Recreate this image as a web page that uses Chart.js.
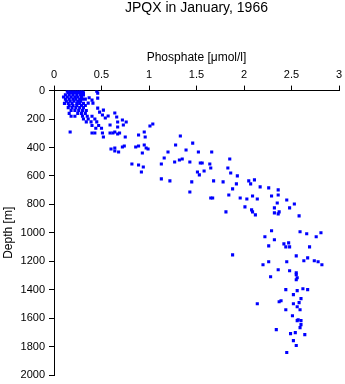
<!DOCTYPE html>
<html>
<head>
<meta charset="utf-8">
<script src="https://cdn.jsdelivr.net/npm/chart.js@4/dist/chart.umd.min.js"></script>
<style>
    body { margin: 0; background: #fff; }
    #wrap { width: 345px; height: 384px; }
</style>
</head>
<body>
<div id="wrap"><canvas id="graficaFosfato"></canvas></div>
<script>
const chartTitle = "JPQX in January, 1966";
const xTitle = "Phosphate [\u03bcmol/l]";
const yTitle = "Depth [m]";

// [phosphate, depth] pairs
const surfaceLayer = [
    [0.14, 5], [0.16, 5], [0.18, 5], [0.20, 5], [0.22, 5], [0.24, 5], [0.26, 5], [0.28, 5], [0.30, 5], [0.45, 5],
    [0.15, 15], [0.17, 15], [0.19, 15], [0.21, 15], [0.23, 15], [0.25, 15], [0.27, 15], [0.29, 15], [0.31, 15], [0.46, 18],
    [0.12, 30], [0.16, 30], [0.20, 30], [0.24, 30], [0.28, 30], [0.31, 30],
    [0.10, 45], [0.14, 45], [0.18, 45], [0.22, 45], [0.25, 45], [0.29, 45], [0.37, 50], [0.46, 53],
    [0.12, 60], [0.16, 60], [0.20, 60], [0.23, 60], [0.27, 60], [0.30, 60], [0.33, 60], [0.40, 67],
    [0.13, 75], [0.17, 75], [0.21, 75], [0.25, 75], [0.28, 75],
    [0.11, 90], [0.15, 90], [0.19, 90], [0.24, 90], [0.27, 90], [0.31, 90], [0.36, 88], [0.41, 88],
    [0.16, 105], [0.20, 105], [0.24, 105], [0.29, 105], [0.33, 105],
    [0.15, 120], [0.19, 120], [0.23, 120], [0.27, 120], [0.31, 120], [0.46, 123],
    [0.18, 140], [0.22, 140], [0.26, 140], [0.30, 140], [0.34, 140], [0.52, 137],
    [0.16, 160], [0.25, 160], [0.29, 160], [0.33, 160], [0.48, 151], [0.64, 158],
    [0.18, 180], [0.22, 180], [0.30, 180], [0.35, 180], [0.40, 180], [0.51, 172], [0.57, 179], [0.66, 186],
    [0.31, 200], [0.36, 200], [0.43, 200], [0.54, 193], [0.72, 207],
    [0.34, 220], [0.39, 220], [0.45, 220], [0.67, 221], [0.76, 221],
    [0.40, 245], [0.47, 245], [0.59, 242], [0.73, 242], [1.01, 249], [1.04, 235],
    [0.44, 265], [0.50, 265], [0.67, 256],
];

const upperLayer = [
    [0.17, 291], [0.40, 298], [0.43, 298], [0.51, 298], [0.52, 326], [0.59, 298], [0.62, 298], [0.64, 291],
    [0.67, 305], [0.69, 298], [0.75, 326], [0.89, 312], [0.95, 291], [0.96, 326], [1.33, 319],
    [0.60, 411], [0.64, 404], [0.64, 425], [0.68, 432], [0.72, 397], [0.74, 390], [0.86, 397], [0.89, 390],
    [0.95, 383], [0.97, 404], [0.99, 411], [0.93, 439], [1.20, 432], [1.16, 474], [1.28, 383], [1.27, 502],
    [1.32, 488], [1.35, 481], [0.82, 516], [0.89, 523], [0.94, 537], [0.92, 572], [1.13, 516], [1.13, 621],
    [1.22, 635], [1.46, 369], [1.39, 418], [1.52, 432], [1.66, 432], [1.85, 481], [1.43, 502], [1.54, 509],
    [1.56, 509], [1.64, 516], [1.65, 544], [1.51, 572], [1.53, 593], [1.58, 565], [1.83, 544], [1.86, 579],
    [1.93, 600], [1.45, 642], [1.68, 635], [1.78, 642], [1.92, 656], [1.88, 691], [1.43, 713], [1.84, 734],
    [1.65, 755], [1.67, 755], [1.96, 755], [1.81, 853],
];

const middleLayer = [
    [2.05, 635], [2.07, 656], [2.11, 628], [2.17, 677], [2.26, 684], [2.36, 698], [2.36, 734], [2.29, 741],
    [2.45, 769], [2.53, 797], [2.48, 825], [2.35, 790], [2.32, 825], [2.37, 853], [2.32, 860], [2.36, 867],
    [2.58, 881], [2.03, 762], [2.09, 741], [2.14, 762], [2.01, 818], [2.09, 853], [2.12, 874], [2.08, 839],
    [2.29, 986], [2.22, 1028], [2.32, 1049], [2.59, 993], [2.66, 1007], [2.81, 1000], [2.76, 1028],
    [1.88, 1155], [2.26, 1092], [2.42, 1078], [2.47, 1071], [2.44, 1099], [2.48, 1099], [2.69, 1099],
    [2.55, 1162], [2.67, 1176],
];

const deepLayer = [
    [2.26, 1204], [2.20, 1225], [2.45, 1204], [2.63, 1197], [2.74, 1197], [2.78, 1204], [2.82, 1225],
    [2.36, 1260], [2.48, 1267], [2.55, 1281], [2.55, 1295], [2.56, 1316], [2.55, 1330], [2.28, 1309],
    [2.44, 1400], [2.56, 1407], [2.62, 1393], [2.67, 1400], [2.52, 1435], [2.60, 1463], [2.58, 1491],
    [2.14, 1499], [2.37, 1485], [2.39, 1478], [2.52, 1499], [2.56, 1520], [2.44, 1541], [2.59, 1541],
    [2.51, 1583], [2.57, 1611], [2.56, 1618], [2.60, 1618], [2.60, 1646], [2.59, 1667], [2.34, 1681],
    [2.49, 1709], [2.54, 1702], [2.64, 1716], [2.52, 1758], [2.55, 1793], [2.45, 1842],
];

const fuente = '"Liberation Sans", Arial, Helvetica, sans-serif';

document.addEventListener("DOMContentLoaded", function () {
    const puntos = [...surfaceLayer, ...upperLayer, ...middleLayer, ...deepLayer]
        .map(([x, y]) => ({ x: x, y: y }));

    const titlePlugin = {
        id: "tituloCentrado",
        afterDraw(chart) {
            const { ctx, chartArea } = chart;
            ctx.save();
            ctx.font = `14px ${fuente}`;
            ctx.fillStyle = "#000";
            ctx.textAlign = "center";
            ctx.textBaseline = "top";
            ctx.fillText(chartTitle, (chartArea.left + chartArea.right) / 2, 1);
            ctx.restore();
        },
    };

    const config = {
        type: "scatter",
        data: {
            datasets: [
                {
                    label: "Phosphate",
                    data: puntos,
                    pointStyle: "rect",
                    pointRadius: 2.2,
                    borderWidth: 0,
                    backgroundColor: "#0000ff",
                    borderColor: "#0000ff",
                },
            ],
        },
        options: {
            responsive: true,
            maintainAspectRatio: false,
            animation: false,
            layout: {
                padding: { top: 42, right: 6, bottom: 9, left: 0 },
            },
            plugins: {
                legend: { display: false },
                tooltip: { enabled: false },
                title: { display: false },
            },
            scales: {
                x: {
                    type: "linear",
                    position: "top",
                    min: 0,
                    max: 3,
                    afterFit: (scale) => { scale.paddingLeft = 0; scale.paddingRight = 0; },
                    ticks: {
                        stepSize: 0.5,
                        color: "#000",
                        padding: 4,
                        font: { family: fuente, size: 11 },
                        callback: (value) => String(value),
                    },
                    grid: { drawOnChartArea: false, tickLength: 5, color: "#000" },
                    border: { color: "#000" },
                    title: {
                        display: true,
                        text: xTitle,
                        color: "#000",
                        font: { family: fuente, size: 12 },
                        padding: { top: 8, bottom: 0 },
                    },
                },
                y: {
                    type: "linear",
                    reverse: true,
                    min: 0,
                    max: 2000,
                    afterFit: (scale) => {
                        scale.width = 54;
                        scale.paddingTop = 0;
                        scale.paddingBottom = 0;
                    },
                    ticks: {
                        stepSize: 200,
                        color: "#000",
                        padding: 4,
                        font: { family: fuente, size: 11 },
                        callback: (value) => String(value),
                    },
                    grid: { drawOnChartArea: false, tickLength: 5, color: "#000" },
                    border: { color: "#000" },
                    title: {
                        display: true,
                        text: yTitle,
                        color: "#000",
                        font: { family: fuente, size: 12 },
                        padding: { top: 1, bottom: 0 },
                    },
                },
            },
        },
        plugins: [titlePlugin],
    };

    new Chart(document.getElementById("graficaFosfato"), config);
});
</script>
</body>
</html>
